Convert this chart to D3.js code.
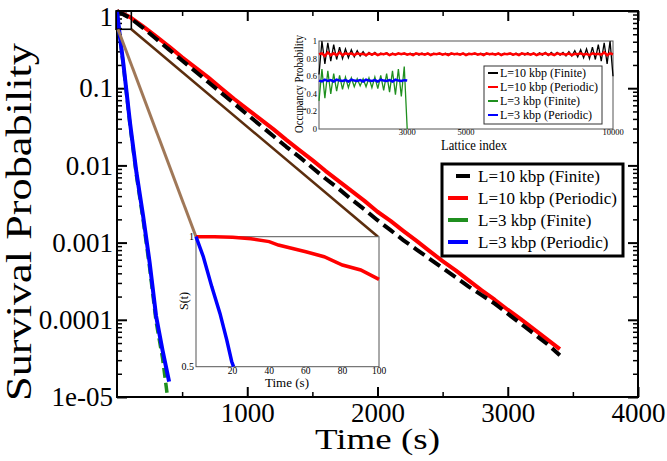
<!DOCTYPE html>
<html><head><meta charset="utf-8">
<script src="https://cdn.jsdelivr.net/npm/d3@7"></script>
<style>body{margin:0;background:#fff}svg{display:block}text{font-family:"Liberation Serif","DejaVu Serif",serif;fill:#000}</style>
</head><body><svg id="c" width="667" height="461" font-family="Liberation Serif"></svg>
<script>
// ---------- data ----------
const seriesNames = ["L=10 kbp (Finite)","L=10 kbp (Periodic)","L=3 kbp (Finite)","L=3 kbp (Periodic)"];
const seriesColors = ["#000000","#ff0000","#1f8f1f","#0000ff"];

const timeLong = [0,100,200,300,400,500,600,700,800,900,1000,1100,1200,1300,1400,1500,1600,1700,1800,1900,2000,2100,2200,2300,2400,2500,2600,2700,2800,2900,3000,3100,3200,3300,3400];
const surv10Periodic = [1,0.832,0.631,0.468,0.347,0.251,0.186,0.138,0.100,0.0724,0.0537,0.0398,0.0295,0.0214,0.0158,0.0117,0.00851,0.00631,0.00468,0.00347,0.00251,0.00191,0.00141,0.00105,0.000776,0.000575,0.000437,0.000324,0.000240,0.000182,0.000135,0.000102,0.0000759,0.0000562,0.0000417];
const surv10Finite = [1,0.813,0.603,0.437,0.316,0.229,0.166,0.120,0.0871,0.0631,0.0457,0.0331,0.0240,0.0174,0.0129,0.00933,0.00676,0.00501,0.00363,0.00269,0.00195,0.00145,0.00107,0.000813,0.000617,0.000468,0.000355,0.000269,0.000209,0.000162,0.000120,0.0000891,0.0000661,0.0000490,0.0000347];
const timeShortPeriodic = [0,20,50,100,150,200,250,300,350,400];
const surv3Periodic = [1,0.501,0.200,0.0355,0.00794,0.00224,0.000562,0.000112,0.0000398,0.0000158];
const timeShortFinite = [0,20,50,100,150,200,250,300,350,388];
const surv3Finite = [1,0.490,0.191,0.0331,0.00724,0.00200,0.000479,0.0000955,0.0000316,0.00001];

const xTicks = [1000,2000,3000,4000];
const xMinorTicks = [500,1500,2500,3500];
const yTicks = [1,0.1,0.01,0.001,0.0001,0.00001];
const yTickLabels = ["1","0.1","0.01","0.001","0.0001","1e-05"];

// zoomed inset (first 100 s)
const insetTime10 = [0,10,20,30,40,45,60,70,80,90,100];
const insetSurv10 = [1,1,0.998,0.992,0.981,0.968,0.942,0.923,0.891,0.872,0.836];
const insetTime3 = [0,4,8.6,13.1,16.8,19.5,20.5];
const insetSurv3 = [1,0.923,0.808,0.705,0.603,0.52,0.5];
const insetXTicks = [20,40,60,80,100];
const insetYTicks = [0.5,1];
const insetYTickLabels = ["0.5","1"];

// occupancy inset (lattice index step 100)
const latticeStep = 100;
const occ10Finite = [0.62,1.00,0.74,0.98,0.77,0.96,0.79,0.93,0.80,0.91,
 0.81,0.90,0.82,0.89,0.83,0.88,0.83,0.87,0.84,0.87,
 0.84,0.86,0.845,0.865,0.84,0.86,0.845,0.86,0.85,0.855,
 0.845,0.86,0.85,0.855,0.84,0.86,0.85,0.855,0.845,0.86,
 0.85,0.855,0.845,0.86,0.85,0.855,0.845,0.86,0.85,0.855,
 0.845,0.86,0.85,0.855,0.845,0.86,0.85,0.855,0.845,0.86,
 0.85,0.855,0.845,0.86,0.85,0.855,0.84,0.86,0.845,0.86,
 0.84,0.865,0.845,0.86,0.84,0.865,0.84,0.87,0.835,0.87,
 0.84,0.87,0.84,0.87,0.83,0.88,0.83,0.89,0.82,0.90,
 0.81,0.91,0.80,0.93,0.79,0.96,0.77,0.98,0.74,1.00,
 0.60];
const occ10Periodic = [0.85,0.86,0.83,0.87,0.84,0.86,0.84,0.87,0.84,0.86,
 0.85,0.86,0.84,0.86,0.85,0.855,0.84,0.86,0.845,0.86,
 0.84,0.855,0.85,0.86,0.84,0.855,0.845,0.86,0.85,0.86,
 0.845,0.855,0.84,0.86,0.85,0.855,0.845,0.86,0.84,0.855,
 0.85,0.86,0.845,0.855,0.84,0.86,0.85,0.855,0.845,0.86,
 0.84,0.855,0.85,0.86,0.845,0.855,0.84,0.86,0.85,0.855,
 0.845,0.86,0.84,0.855,0.85,0.86,0.845,0.855,0.84,0.86,
 0.85,0.855,0.845,0.86,0.84,0.855,0.85,0.86,0.845,0.855,
 0.84,0.86,0.85,0.855,0.845,0.86,0.84,0.855,0.85,0.86,
 0.845,0.855,0.84,0.86,0.85,0.855,0.845,0.87,0.84,0.86,
 0.85];
const occ3Finite = [0.32,0.68,0.35,0.66,0.40,0.63,0.43,0.61,0.45,0.59,0.47,0.58,0.48,0.57,0.49,0.57,0.48,0.58,0.47,0.59,0.46,0.61,0.44,0.63,0.42,0.66,0.39,0.68,0.37,0.71,0.0];
const occ3Periodic = [0.55,0.54,0.56,0.545,0.555,0.54,0.56,0.55,0.545,0.555,0.54,0.56,0.55,0.545,0.555,0.54,0.56,0.55,0.545,0.555,0.54,0.56,0.55,0.545,0.555,0.54,0.56,0.55,0.545,0.555,0.55];
const occXTicks = [3000,5000,10000];
const occYTicks = [0,0.2,0.4,0.6,0.8,1];
const occYTickLabels = ["0","0.2","0.4","0.6","0.8","1"];

// ---------- drawing ----------
const svg = d3.select("#c");
const L = 117, R = 638, T = 11, B = 397;
const x = d3.scaleLinear().domain([0,4000]).range([L,R]);
const y = d3.scaleLog().domain([1e-5,1]).range([B,T]);
const yMinor = y.ticks().filter(v => Math.abs(Math.log10(v) - Math.round(Math.log10(v))) > 1e-6);

svg.append("rect").attr("width",667).attr("height",461).attr("fill","#fff");

function styleAxis(g, w){ g.attr("font-family",null); g.select(".domain").remove(); g.selectAll(".tick line").attr("stroke","#000").attr("stroke-width",w); }

// major/minor ticks on four sides (inward)
const gb = svg.append("g").attr("transform",`translate(0,${B})`)
  .call(d3.axisBottom(x).tickValues(xTicks).tickSize(-10).tickPadding(6).tickFormat(d3.format("d")));
styleAxis(gb,2);
gb.selectAll("text").attr("font-size",27);
svg.append("g").attr("transform",`translate(0,${B})`).call(d3.axisBottom(x).tickValues(xMinorTicks).tickSize(-5).tickFormat("")).call(g=>styleAxis(g,1.5));
svg.append("g").attr("transform",`translate(0,${T})`).call(d3.axisTop(x).tickValues(xTicks).tickSize(-10).tickFormat("")).call(g=>styleAxis(g,2));
svg.append("g").attr("transform",`translate(0,${T})`).call(d3.axisTop(x).tickValues(xMinorTicks).tickSize(-5).tickFormat("")).call(g=>styleAxis(g,1.5));

const gl = svg.append("g").attr("transform",`translate(${L},0)`)
  .call(d3.axisLeft(y).tickValues(yTicks).tickSize(-10).tickPadding(4).tickFormat((d,i)=>yTickLabels[i]));
styleAxis(gl,2);
gl.selectAll("text").attr("font-size",27);
gl.selectAll("text").filter(d=>d===1).attr("dy","0.55em");
svg.append("g").attr("transform",`translate(${L},0)`).call(d3.axisLeft(y).tickValues(yMinor).tickSize(-5).tickFormat("")).call(g=>styleAxis(g,1.5));
svg.append("g").attr("transform",`translate(${R},0)`).call(d3.axisRight(y).tickValues(yTicks).tickSize(-10).tickFormat("")).call(g=>styleAxis(g,2));
svg.append("g").attr("transform",`translate(${R},0)`).call(d3.axisRight(y).tickValues(yMinor).tickSize(-5).tickFormat("")).call(g=>styleAxis(g,1.5));

svg.append("rect").attr("x",L).attr("y",T).attr("width",R-L).attr("height",B-T)
  .attr("fill","none").attr("stroke","#000").attr("stroke-width",2);

// axis titles
svg.append("text").attr("x",(L+R)/2).attr("y",449).attr("text-anchor","middle")
  .attr("font-size",30).attr("textLength",125).attr("lengthAdjust","spacingAndGlyphs").text("Time (s)");
svg.append("text").attr("transform",`translate(31,${222}) rotate(-90)`).attr("text-anchor","middle")
  .attr("font-size",36).attr("textLength",358).attr("lengthAdjust","spacingAndGlyphs").text("Survival Probability");

// main lines
svg.append("clipPath").attr("id","mainclip").append("rect").attr("x",L).attr("y",T-4).attr("width",R-L).attr("height",B-T+8);
const lineMain = d3.line().x(d=>x(d[0])).y(d=>y(d[1]));
const gLines = svg.append("g").attr("clip-path","url(#mainclip)");
function drawMain(ts, ss, color, width, dash){
  gLines.append("path").datum(ts.map((t,i)=>[t,ss[i]])).attr("d",lineMain)
    .attr("fill","none").attr("stroke",color).attr("stroke-width",width)
    .attr("stroke-dasharray",dash||null).attr("stroke-linejoin","round");
}
drawMain(timeLong, surv10Periodic, seriesColors[1], 4);
drawMain(timeLong, surv10Finite, seriesColors[0], 4, "13,6");
drawMain(timeShortFinite, surv3Finite, seriesColors[2], 3.5, "10,5");
drawMain(timeShortPeriodic, surv3Periodic, seriesColors[3], 4);

// zoomed inset geometry
const ix = d3.scaleLinear().domain([0,100]).range([196,379]);
const iy = d3.scaleLinear().domain([0.5,1]).range([366.7,236.7]);
const boxT = [0,110], boxS = [0.58,1];

// zoom box and connector lines
svg.append("rect").attr("x",x(boxT[0])-1).attr("y",y(boxS[1])).attr("width",x(boxT[1])-x(boxT[0])+1).attr("height",y(boxS[0])-y(boxS[1]))
  .attr("fill","none").attr("stroke","#000").attr("stroke-width",1.6);
svg.append("line").attr("x1",x(boxT[0])+1).attr("y1",y(boxS[0])).attr("x2",ix(0)).attr("y2",iy(1))
  .attr("stroke","#a07858").attr("stroke-width",3);
svg.append("line").attr("x1",x(boxT[1])).attr("y1",y(boxS[0])).attr("x2",ix(100)-1).attr("y2",iy(1))
  .attr("stroke","#5c2e0e").attr("stroke-width",2.6);

// inset 1
svg.append("rect").attr("x",ix(0)).attr("y",iy(1)).attr("width",ix(100)-ix(0)).attr("height",iy(0.5)-iy(1))
  .attr("fill","#fff").attr("stroke","#555").attr("stroke-width",1);
const lineIns = d3.line().x(d=>ix(d[0])).y(d=>iy(d[1]));
svg.append("path").datum(insetTime10.map((t,i)=>[t,insetSurv10[i]])).attr("d",lineIns)
  .attr("fill","none").attr("stroke",seriesColors[1]).attr("stroke-width",3.5);
svg.append("path").datum(insetTime3.map((t,i)=>[t,insetSurv3[i]])).attr("d",lineIns)
  .attr("fill","none").attr("stroke",seriesColors[3]).attr("stroke-width",3.5);
svg.append("g").selectAll("text").data(insetXTicks).join("text")
  .attr("x",d=>ix(d)).attr("y",374).attr("text-anchor","middle").attr("font-size",9.5).text(d=>d);
svg.append("g").selectAll("text").data(insetYTicks).join("text")
  .attr("x",194).attr("y",d=>iy(d)+3.5).attr("text-anchor","end").attr("font-size",10).text((d,i)=>insetYTickLabels[i]);
svg.append("text").attr("x",287).attr("y",387).attr("text-anchor","middle").attr("font-size",12)
  .attr("textLength",44).attr("lengthAdjust","spacingAndGlyphs").text("Time (s)");
svg.append("text").attr("transform","translate(188,301) rotate(-90)").attr("text-anchor","middle").attr("font-size",12).text("S(t)");

// inset 2 (occupancy)
const ox = d3.scaleLinear().domain([0,10000]).range([319,613]);
const oy = d3.scaleLinear().domain([0,1]).range([129,41]);
svg.append("rect").attr("x",ox(0)).attr("y",oy(1)).attr("width",ox(10000)-ox(0)).attr("height",oy(0)-oy(1))
  .attr("fill","#fff").attr("stroke","#555").attr("stroke-width",1);
const lineOcc = d3.line().x((d,i)=>ox(i*latticeStep)).y(d=>oy(d));
[[occ10Finite,0,1.3],[occ10Periodic,1,2.5],[occ3Finite,2,1.3],[occ3Periodic,3,2.5]].forEach(([arr,k,w])=>{
  svg.append("path").datum(arr).attr("d",lineOcc).attr("fill","none").attr("stroke",seriesColors[k]).attr("stroke-width",w);
});
svg.append("g").selectAll("text").data(occYTicks).join("text")
  .attr("x",317).attr("y",d=>oy(d)+3).attr("text-anchor","end").attr("font-size",8.5).text((d,i)=>occYTickLabels[i]);
svg.append("g").selectAll("text").data(occXTicks).join("text")
  .attr("x",d=>ox(d)).attr("y",134.5).attr("text-anchor","middle").attr("font-size",8.5).text(d=>d);
svg.append("text").attr("x",474).attr("y",150).attr("text-anchor","middle").attr("font-size",14)
  .attr("textLength",66).attr("lengthAdjust","spacingAndGlyphs").text("Lattice index");
svg.append("text").attr("transform","translate(303,84) rotate(-90)").attr("text-anchor","middle").attr("font-size",12)
  .attr("textLength",98).attr("lengthAdjust","spacingAndGlyphs").text("Occupancy Probability");

// inset 2 legend
svg.append("rect").attr("x",484).attr("y",66).attr("width",118).attr("height",58).attr("fill","#fff").attr("stroke","#333").attr("stroke-width",1);
const occRows = [73,87,101,115];
seriesNames.forEach((n,i)=>{
  svg.append("line").attr("x1",488).attr("x2",498).attr("y1",occRows[i]).attr("y2",occRows[i]).attr("stroke",seriesColors[i]).attr("stroke-width",2);
  svg.append("text").attr("x",500).attr("y",occRows[i]+4).attr("font-size",12).text(n);
});

// main legend
svg.append("rect").attr("x",442).attr("y",164).attr("width",181).attr("height",92).attr("fill","#fff").attr("stroke","#000").attr("stroke-width",3);
const legRows = [176,198,220,242];
seriesNames.forEach((n,i)=>{
  svg.append("line").attr("x1",i===0?456:448).attr("x2",i===0?470:468).attr("y1",legRows[i]).attr("y2",legRows[i]).attr("stroke",seriesColors[i]).attr("stroke-width",4);
  svg.append("text").attr("x",478).attr("y",legRows[i]+6).attr("font-size",17).text(n);
});
</script></body></html>
